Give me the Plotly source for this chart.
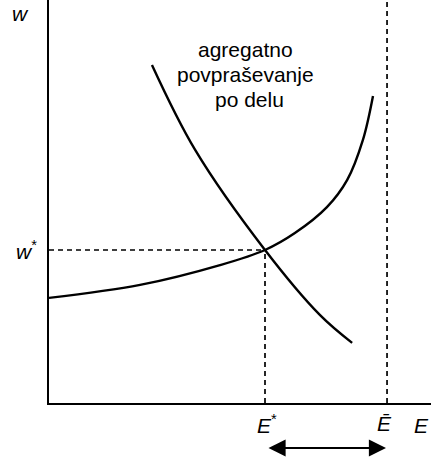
import plotly.graph_objects as go

# Labour market: supply of labour (upward) and aggregate demand for labour (downward)
supply_E = [0.0, 2.53, 4.75, 6.0, 6.83, 7.72, 8.28, 8.72, 9.0]
supply_w = [2.92, 3.28, 3.83, 4.25, 4.72, 5.44, 6.19, 7.31, 8.53]

demand_E = [2.86, 4.06, 6.0, 7.53, 8.42]
demand_w = [9.39, 7.03, 4.25, 2.44, 1.67]

E_star = 6.0     # equilibrium employment
w_star = 4.25    # equilibrium wage
E_bar = 9.39     # total labour endowment

X_MAX = 10.611
Y_MAX = 11.194

# plot area in page pixels: left edge 49, top 0, width 382, height 403
def paper_x(p):
    return (p - 49) / 382.0

def paper_y(p):
    return (403 - p) / 403.0

fig = go.Figure()

line_style = dict(color="black", width=2.4, shape="spline", smoothing=1.0)
dash_style = dict(color="black", width=1.7, dash="5px,4px")

fig.add_trace(go.Scatter(x=supply_E, y=supply_w, mode="lines", line=line_style,
                         hoverinfo="skip", showlegend=False, cliponaxis=False))
fig.add_trace(go.Scatter(x=demand_E, y=demand_w, mode="lines", line=line_style,
                         hoverinfo="skip", showlegend=False, cliponaxis=False))

# equilibrium guides
fig.add_trace(go.Scatter(x=[0, E_star], y=[w_star, w_star], mode="lines", line=dash_style,
                         hoverinfo="skip", showlegend=False))
fig.add_trace(go.Scatter(x=[E_star, E_star], y=[0, w_star], mode="lines", line=dash_style,
                         hoverinfo="skip", showlegend=False))
fig.add_trace(go.Scatter(x=[E_bar, E_bar], y=[0, Y_MAX], mode="lines", line=dash_style,
                         hoverinfo="skip", showlegend=False))

label_font = dict(family="Liberation Sans, Arial, sans-serif", size=21, color="black")
text_font = dict(family="Liberation Sans, Arial, sans-serif", size=21, color="black")

annotations = [
    dict(x=paper_x(20), y=paper_y(14), text="<i>w</i>", font=label_font, xanchor="center"),
    dict(x=paper_x(26), y=paper_y(250), text="<i>w</i><sup>*</sup>", font=label_font, xanchor="center"),
    dict(x=paper_x(267), y=paper_y(424), text="<i>E</i><sup>*</sup>", font=label_font, xanchor="center"),
    dict(x=paper_x(384), y=paper_y(423), text="<i>Ē</i>", font=label_font, xanchor="center"),
    dict(x=paper_x(412), y=paper_y(425), text="<i>E</i>", font=label_font, xanchor="left"),
    dict(x=paper_x(245), y=paper_y(50), text="agregatno", font=text_font, xanchor="center"),
    dict(x=paper_x(246), y=paper_y(75), text="povpraševanje", font=text_font, xanchor="center"),
    dict(x=paper_x(249), y=paper_y(99), text="po delu", font=text_font, xanchor="center"),
]
for a in annotations:
    a.update(xref="paper", yref="paper", showarrow=False, yanchor="middle")

# double-headed arrow between E* and E-bar
annotations.append(dict(
    x=paper_x(386), y=paper_y(448), xref="paper", yref="paper",
    ax=-119, ay=0,
    text="", showarrow=True, arrowhead=2, startarrowhead=2,
    arrowside="end+start", arrowsize=1.9, startarrowsize=1.9,
    arrowwidth=1.8, arrowcolor="black",
))

fig.update_layout(
    width=431, height=457,
    margin=dict(l=49, r=0, t=0, b=54),
    paper_bgcolor="white", plot_bgcolor="white",
    annotations=annotations,
    showlegend=False,
)
fig.update_xaxes(range=[0, X_MAX], showgrid=False, zeroline=False, showticklabels=False,
                 ticks="", showline=True, linecolor="black", linewidth=2)
fig.update_yaxes(range=[0, Y_MAX], showgrid=False, zeroline=False, showticklabels=False,
                 ticks="", showline=True, linecolor="black", linewidth=2)

fig.write_html("out.html")
